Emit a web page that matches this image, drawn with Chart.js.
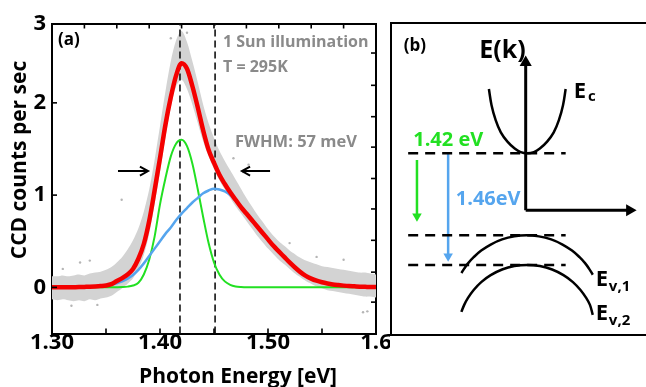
<!DOCTYPE html>
<html><head><meta charset="utf-8">
<script src="https://cdn.jsdelivr.net/npm/chart.js@4/dist/chart.umd.min.js"></script>
<style>
html,body{margin:0;padding:0;background:#fff;overflow:hidden;width:646px;height:387px}
#wa{position:absolute;left:0;top:0;width:390px;height:387px}
#wb{position:absolute;left:390px;top:22px;width:256px;height:310px;border:2px solid #000;border-right:none}
#wb canvas{position:absolute;left:0;top:0}
</style></head><body>
<div id="wa"><canvas id="ca" width="390" height="387"></canvas></div>
<div id="wb"><canvas id="cb" width="256" height="310"></canvas></div>
<script>
// ---------- Panel (a) data ----------
const energy = [1.300,1.305,1.310,1.315,1.320,1.325,1.330,1.335,1.340,1.345,
 1.350,1.355,1.360,1.365,1.370,1.375,1.380,1.385,1.390,1.395,
 1.400,1.405,1.410,1.415,1.420,1.425,1.430,1.435,1.440,1.445,
 1.450,1.455,1.460,1.465,1.470,1.475,1.480,1.485,1.490,1.495,
 1.500,1.505,1.510,1.515,1.520,1.525,1.530,1.535,1.540,1.545,
 1.550,1.555,1.560,1.565,1.570,1.575,1.580,1.585,1.590,1.595,1.600];
const fitTotal = [0,0,0.001,0.001,0.002,0.003,0.005,0.007,0.010,0.014,
 0.02,0.035,0.07,0.10,0.14,0.20,0.31,0.47,0.72,1.05,
 1.40,1.76,2.06,2.30,2.43,2.37,2.18,1.95,1.70,1.49,
 1.35,1.22,1.12,1.03,0.95,0.87,0.80,0.73,0.66,0.59,
 0.52,0.45,0.39,0.33,0.27,0.215,0.165,0.125,0.095,0.072,
 0.055,0.042,0.032,0.025,0.019,0.014,0.011,0.008,0.006,0.004,0.003];
const peak142 = [0,0,0,0,0,0,0,0,0,0,
 0,0,0.001,0.003,0.008,0.02,0.05,0.14,0.30,0.55,
 0.90,1.18,1.42,1.56,1.60,1.53,1.34,1.06,0.76,0.48,
 0.27,0.14,0.065,0.028,0.01,0.003,0,0,0,0,
 0,0,0,0,0,0,0,0,0,0,
 0,0,0,0,0,0,0,0,0,0,0];
const peak146 = [0,0,0.001,0.001,0.002,0.003,0.005,0.007,0.010,0.014,
 0.02,0.03,0.045,0.065,0.095,0.135,0.19,0.26,0.34,0.42,
 0.50,0.58,0.65,0.73,0.80,0.86,0.92,0.97,1.02,1.05,
 1.07,1.06,1.04,1.00,0.94,0.87,0.80,0.73,0.66,0.59,
 0.52,0.45,0.39,0.33,0.27,0.215,0.165,0.125,0.095,0.072,
 0.055,0.042,0.032,0.025,0.019,0.014,0.011,0.008,0.006,0.004,0.003];
const dataLow = [-0.13,-0.14,-0.13,-0.14,-0.15,-0.14,-0.15,-0.13,-0.14,-0.12,
 -0.11,-0.09,-0.05,-0.01,0.04,0.10,0.20,0.35,0.58,0.90,
 1.25,1.62,1.95,2.18,2.25,2.15,1.98,1.78,1.58,1.42,
 1.28,1.16,1.06,0.97,0.88,0.80,0.72,0.64,0.56,0.49,
 0.42,0.36,0.30,0.25,0.20,0.15,0.11,0.07,0.04,0.01,
 -0.01,-0.03,-0.04,-0.05,-0.06,-0.07,-0.08,-0.09,-0.10,-0.10,-0.11];
const dataHigh = [0.12,0.12,0.13,0.12,0.13,0.14,0.13,0.15,0.16,0.17,
 0.19,0.22,0.27,0.33,0.41,0.51,0.64,0.82,1.06,1.38,
 1.75,2.12,2.45,2.68,2.78,2.66,2.45,2.22,1.98,1.78,
 1.62,1.48,1.37,1.27,1.17,1.07,0.97,0.88,0.79,0.71,
 0.63,0.56,0.50,0.45,0.40,0.36,0.32,0.29,0.27,0.25,
 0.23,0.22,0.21,0.20,0.19,0.18,0.17,0.16,0.16,0.15,0.14];
const strayX = [1.3645,1.326,1.335,1.342,1.318,1.310,1.468,1.477,1.482,1.588,1.592,1.570,1.415,1.410,1.425,1.520,1.545];
const strayY = [0.95,0.27,0.29,-0.19,-0.20,0.20,1.40,1.25,1.33,-0.27,-0.26,0.30,2.88,2.70,2.76,0.48,0.33];
const peakLines = [1.4185, 1.451];
const fwhmY = 1.26;
const arrowLeft = [1.3611, 1.3889];
const arrowRight = [1.5019, 1.4759];
const xTickValues = [1.30, 1.40, 1.50, 1.60];
const xTickLabels = ['1.30', '1.40', '1.50', '1.6'];
const xMinorTicks = [1.35, 1.45, 1.55];
const yTickValues = [0, 1, 2, 2.86];
const yTickLabels = ['0', '1', '2', '3'];
const topTicks = [1.33,1.36,1.39,1.42,1.45,1.48,1.51,1.54,1.57];
const rightTicks = [-0.16,0.165,0.51,0.85,1.18,1.52,1.85,2.19,2.54];

// ---------- Panel (b) data ----------
const ecK = [-0.57,-0.53,-0.47,-0.39,-0.29,-0.18,-0.09,0.01,0.11,0.20,0.31,0.41,0.49,0.55,0.59];
const ecE = [2.53,2.25,2.00,1.78,1.62,1.50,1.44,1.42,1.44,1.50,1.62,1.78,2.00,2.25,2.53];
const ev1K = [-0.986,-0.943,-0.886,-0.8,-0.686,-0.543,-0.371,-0.186,0,0.186,0.371,0.543,0.686,0.8,0.886,0.943,1.0];
const ev1E = [-0.652,-0.575,-0.485,-0.378,-0.264,-0.159,-0.071,-0.018,0,-0.018,-0.071,-0.159,-0.264,-0.378,-0.485,-0.575,-0.682];
const ev2K = [-0.986,-0.943,-0.886,-0.8,-0.686,-0.543,-0.371,-0.186,0.01,0.2,0.386,0.557,0.7,0.814,0.9,0.957,1.0];
const ev2E = [-1.324,-1.202,-1.082,-0.945,-0.809,-0.689,-0.591,-0.532,-0.512,-0.532,-0.591,-0.689,-0.809,-0.945,-1.082,-1.202,-1.376];
const levelE = [1.42, 0, -0.512];
const levelK = [-1.79, 0.59];
const axisK = -0.014, axisE = 0.434, axisTopE = 2.99, axisRightK = 1.557;
const greenArrow = {k:-1.657, from:1.304, to:0.33};
const blueArrow = {k:-1.186, from:1.42, to:-0.363};

const FONT = '"Open Sans", "DejaVu Sans", sans-serif';
const RED = '#f40000', GREEN = '#22e022', BLUE = '#55a5ee', GREY = '#8a8a8a';

const pts = (xs, ys) => xs.map((x, i) => ({x, y: ys[i]}));

const textPlugin = {
  id: 'texts',
  afterDraw(chart, args, opts) {
    const ctx = chart.ctx, xs = chart.scales.x, ys = chart.scales.y;
    for (const t of opts.items) {
      ctx.save();
      ctx.font = t.font; ctx.fillStyle = t.color || '#000';
      ctx.textAlign = t.align || 'left'; ctx.textBaseline = 'middle';
      const px = t.px != null ? t.px : xs.getPixelForValue(t.x);
      const py = t.py != null ? t.py : ys.getPixelForValue(t.y);
      ctx.translate(px, py);
      if (t.rot) ctx.rotate(t.rot);
      ctx.fillText(t.text, 0, 0);
      ctx.restore();
    }
  }
};

const innerTicks = {
  id: 'innerTicks',
  afterDatasetsDraw(chart, args, opts) {
    const ctx = chart.ctx, a = chart.chartArea, L = 5;
    ctx.save(); ctx.strokeStyle = '#000'; ctx.lineWidth = 1.6;
    for (const it of opts.items) {
      const s = chart.scales[it.scale];
      for (const v of it.values) {
        const p = s.getPixelForValue(v);
        ctx.beginPath();
        if (it.side === 'bottom') { ctx.moveTo(p, a.bottom); ctx.lineTo(p, a.bottom - L); }
        if (it.side === 'top') { ctx.moveTo(p, a.top); ctx.lineTo(p, a.top + L); }
        if (it.side === 'left') { ctx.moveTo(a.left, p); ctx.lineTo(a.left + L, p); }
        if (it.side === 'right') { ctx.moveTo(a.right, p); ctx.lineTo(a.right - L, p); }
        ctx.stroke();
      }
    }
    ctx.restore();
  }
};

const lineDs = (label, data, color, width, order, extra) => Object.assign({
  label, data, borderColor: color, borderWidth: width, pointRadius: 0,
  fill: false, order, cubicInterpolationMode: 'monotone'
}, extra || {});
const straight = {cubicInterpolationMode: 'default', tension: 0};

const tickFont = {family: FONT, weight: 'bold', size: 22};
const frame = {grid: {display: true, drawOnChartArea: false, drawTicks: false}, border: {display: true, color: '#000', width: 2}};

new Chart(document.getElementById('ca'), {
  type: 'line',
  data: {
    datasets: [
      lineDs('fit', pts(energy, fitTotal), RED, 4.5, 1),
      lineDs('1.46 eV', pts(energy, peak146), BLUE, 2.5, 2),
      lineDs('1.42 eV', pts(energy, peak142), GREEN, 2, 3),
      lineDs('line1', pts([peakLines[0], peakLines[0]], [-0.5, 2.86]), '#111', 1.6, 4, Object.assign({borderDash: [7, 4]}, straight)),
      lineDs('line2', pts([peakLines[1], peakLines[1]], [-0.5, 2.86]), '#111', 1.6, 4, Object.assign({borderDash: [7, 4]}, straight)),
      lineDs('arrL', pts(arrowLeft, [fwhmY, fwhmY]), '#000', 2, 0, straight),
      lineDs('headL', pts([arrowLeft[1] - 0.0075, arrowLeft[1], arrowLeft[1] - 0.0075], [fwhmY + 0.048, fwhmY, fwhmY - 0.048]), '#000', 2, 0, straight),
      lineDs('arrR', pts(arrowRight, [fwhmY, fwhmY]), '#000', 2, 0, straight),
      lineDs('headR', pts([arrowRight[1] + 0.0075, arrowRight[1], arrowRight[1] + 0.0075], [fwhmY + 0.048, fwhmY, fwhmY - 0.048]), '#000', 2, 0, straight),
      {label: 'stray', data: pts(strayX, strayY), showLine: false, pointRadius: 1.2, pointBackgroundColor: '#b5b5b5', pointBorderWidth: 0, order: 5},
      lineDs('dataHigh', pts(energy, dataHigh), 'rgba(0,0,0,0)', 0, 6, {fill: '+1', backgroundColor: '#d3d3d3', tension: 0.3, cubicInterpolationMode: 'default'}),
      lineDs('dataLow', pts(energy, dataLow), 'rgba(0,0,0,0)', 0, 7, {tension: 0.3, cubicInterpolationMode: 'default'})
    ]
  },
  options: {
    responsive: false, animation: false, events: [],
    layout: {padding: 0},
    plugins: {
      legend: {display: false}, tooltip: {enabled: false},
      texts: {items: [
        {text: '(a)', x: 1.3055, y: 2.684, font: 'bold 17px ' + FONT},
        {text: '1 Sun illumination', x: 1.4583, y: 2.65, font: 'bold 16px ' + FONT, color: GREY},
        {text: 'T = 295K', x: 1.4583, y: 2.38, font: 'bold 16px ' + FONT, color: GREY},
        {text: 'FWHM: 57 meV', x: 1.4694, y: 1.571, font: 'bold 16.5px ' + FONT, color: GREY},
        {text: 'Photon Energy [eV]', px: 238, py: 377, align: 'center', font: 'bold 21px ' + FONT},
        {text: 'CCD counts per sec', px: 20, py: 160, align: 'center', rot: -Math.PI / 2, font: 'bold 21px ' + FONT}
      ]},
      innerTicks: {items: [
        {scale: 'x', values: xTickValues.concat(xMinorTicks), side: 'bottom'},
        {scale: 'x2', values: topTicks, side: 'top'},
        {scale: 'y', values: [0, 1, 2], side: 'left'},
        {scale: 'y2', values: rightTicks, side: 'right'}
      ]}
    },
    scales: {
      x: Object.assign({type: 'linear', position: 'bottom', min: 1.30, max: 1.60,
        afterBuildTicks: s => { s.ticks = xTickValues.map(v => ({value: v})); },
        afterFit: s => { s.height = 53.5; s.paddingLeft = 0; s.paddingRight = 0; },
        ticks: {autoSkip: false, maxRotation: 0, minRotation: 0, padding: -4, color: '#000', font: tickFont,
          callback: (v, i) => xTickLabels[i]}}, frame),
      x2: Object.assign({type: 'linear', position: 'top', min: 1.30, max: 1.60,
        afterFit: s => { s.height = 23.5; s.paddingLeft = 0; s.paddingRight = 0; },
        ticks: {display: false}}, frame),
      y: Object.assign({type: 'linear', position: 'left', min: -0.5, max: 2.86,
        afterBuildTicks: s => { s.ticks = yTickValues.map(v => ({value: v})); },
        afterFit: s => { s.width = 52; s.paddingTop = 0; s.paddingBottom = 0; },
        ticks: {padding: 6, color: '#000', font: tickFont, callback: (v, i) => yTickLabels[i]}}, frame),
      y2: Object.assign({type: 'linear', position: 'right', min: -0.5, max: 2.86,
        afterFit: s => { s.width = 14; s.paddingTop = 0; s.paddingBottom = 0; },
        ticks: {display: false}}, frame)
    }
  },
  plugins: [textPlugin, innerTicks]
});

// ---------- Panel (b) ----------
const bLine = (data, color, width, extra) => Object.assign({
  data, borderColor: color, borderWidth: width, showLine: true, pointRadius: 0, tension: 0.4
}, extra || {});
const arrowHead = (r, rot, color) => ({pointRadius: [0, r], pointStyle: 'triangle', pointRotation: [0, rot],
  pointBackgroundColor: color, pointBorderColor: color, pointBorderWidth: 0, tension: 0});
const dashed = {borderDash: [10, 7], tension: 0};

new Chart(document.getElementById('cb'), {
  type: 'scatter',
  data: {
    datasets: [
      bLine(pts(ecK, ecE), '#000', 2.5),
      bLine(pts(ev1K, ev1E), '#000', 2.5),
      bLine(pts(ev2K, ev2E), '#000', 2.5),
      bLine(pts(levelK, [levelE[0], levelE[0]]), '#000', 2.5, dashed),
      bLine(pts(levelK, [levelE[1], levelE[1]]), '#000', 2.5, dashed),
      bLine(pts(levelK, [levelE[2], levelE[2]]), '#000', 2.5, dashed),
      bLine(pts([axisK, axisK], [axisE, axisTopE]), '#000', 3, arrowHead(7, 0, '#000')),
      bLine(pts([axisK, axisRightK], [axisE, axisE]), '#000', 3, arrowHead(7, 90, '#000')),
      bLine(pts([greenArrow.k, greenArrow.k], [greenArrow.from, greenArrow.to]), GREEN, 2.5, arrowHead(5.5, 180, GREEN)),
      bLine(pts([blueArrow.k, blueArrow.k], [blueArrow.from, blueArrow.to]), BLUE, 2.5, arrowHead(5.5, 180, BLUE))
    ]
  },
  options: {
    responsive: false, animation: false, events: [],
    layout: {padding: 0},
    plugins: {
      legend: {display: false}, tooltip: {enabled: false},
      texts: {items: [
        {text: '(b)', x: -1.857, y: 3.27, font: 'bold 17px ' + FONT},
        {text: 'E(k)', x: -0.714, y: 3.19, font: 'bold 25px ' + FONT},
        {text: 'E', x: 0.714, y: 2.485, font: 'bold 22px ' + FONT},
        {text: 'c', x: 0.929, y: 2.394, font: 'bold 15px ' + FONT},
        {text: '1.42 eV', x: -1.714, y: 1.651, font: 'bold 20px ' + FONT, color: GREEN},
        {text: '1.46eV', x: -1.071, y: 0.627, font: 'bold 20px ' + FONT, color: BLUE},
        {text: 'E', x: 1.043, y: -0.768, font: 'bold 22px ' + FONT},
        {text: 'v,1', x: 1.243, y: -0.892, font: 'bold 15px ' + FONT},
        {text: 'E', x: 1.043, y: -1.354, font: 'bold 22px ' + FONT},
        {text: 'v,2', x: 1.243, y: -1.47, font: 'bold 15px ' + FONT}
      ]}
    },
    scales: {
      x: {type: 'linear', display: false, min: -1.9286, max: 1.7286},
      y: {type: 'linear', display: false, min: -1.5852, max: 3.5336}
    }
  },
  plugins: [textPlugin]
});
</script>
</body></html>
